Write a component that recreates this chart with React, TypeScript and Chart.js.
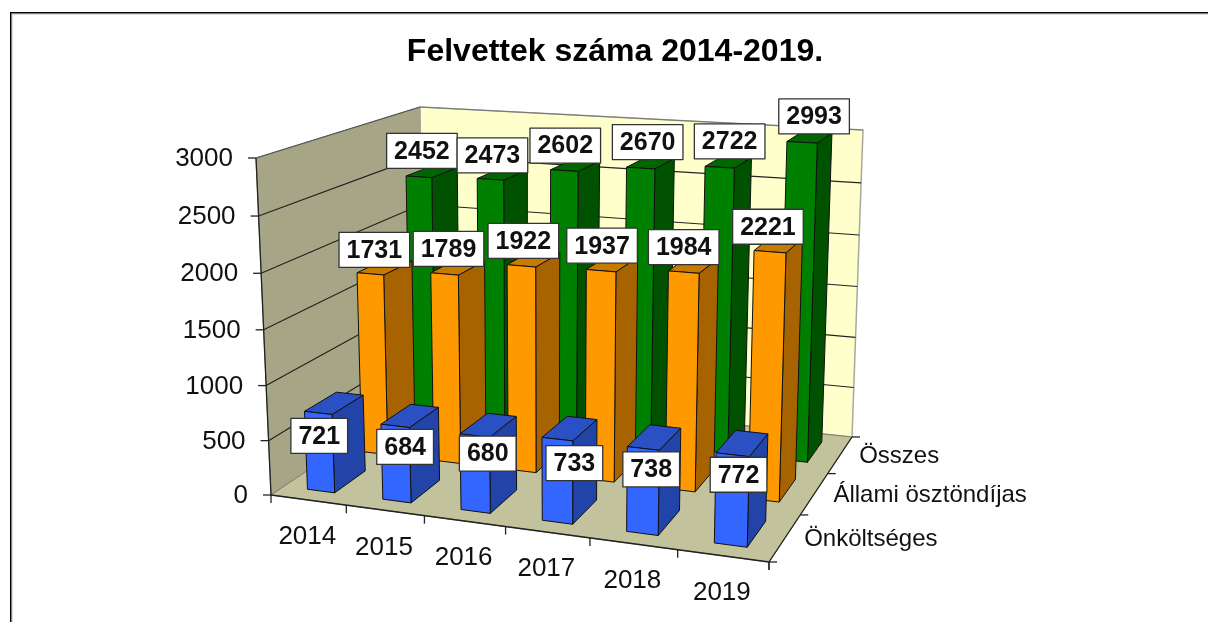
import React, { useEffect, useRef } from "react";
import { Chart, registerables } from "chart.js";

Chart.register(...registerables);

const years = ["2014", "2015", "2016", "2017", "2018", "2019"];
const seriesNames = ["Önköltséges", "Állami ösztöndíjas", "Összes"];
const selfFunded = [721, 684, 680, 733, 738, 772];
const stateFunded = [1731, 1789, 1922, 1937, 1984, 2221];
const total = [2452, 2473, 2602, 2670, 2722, 2993];

// screen offsets of the value boxes from the top of each bar's front face
const labelDx = [
  [1, 10, 13, 17, 8, 6],
  [4, 4, 2, 1, 0, -2],
  [3, 2, 1, 7, 10, 12],
];
const labelDy = [
  [23, 21, 18, 24, 21, 20],
  [-24, -25, -25, -25, -25, -25],
  [-26, -24, -25, -26, -26, -26],
];

const FONT = '"Liberation Sans", Arial, sans-serif';
const faces = [
  { front: "#3366FF", side: "#2244A8", top: "#2A50C4" },
  { front: "#FF9900", side: "#A66300", top: "#C77A00" },
  { front: "#008000", side: "#005200", top: "#006600" },
];

type Q = number[][];
const floorQuad: Q = [[271, 495], [769, 562], [852, 437], [424, 392]];
const topQuad: Q = [[256, 158], [778, 192], [863, 130], [420, 107]];
const BAR_U = 0.365;
const BAR_V = 0.56;

function homography(q: Q) {
  const [[x0, y0], [x1, y1], [x2, y2], [x3, y3]] = q;
  const sx = x0 - x1 + x2 - x3, sy = y0 - y1 + y2 - y3;
  const dx1 = x1 - x2, dx2 = x3 - x2, dy1 = y1 - y2, dy2 = y3 - y2;
  const det = dx1 * dy2 - dx2 * dy1;
  const g = (sx * dy2 - dx2 * sy) / det, h = (dx1 * sy - sx * dy1) / det;
  const a = x1 - x0 + g * x1, b = x3 - x0 + h * x3;
  const d = y1 - y0 + g * y1, e = y3 - y0 + h * y3;
  return (u: number, v: number) => {
    const k = g * u + h * v + 1;
    return [(a * u + b * v + x0) / k, (d * u + e * v + y0) / k];
  };
}
const floorH = homography(floorQuad);
const topH = homography(topQuad);
function project(u: number, v: number, w: number) {
  const p0 = floorH(u, v), p1 = topH(u, v);
  const s = w / (1.04 - 0.04 * w);
  return [p0[0] + (p1[0] - p0[0]) * s, p0[1] + (p1[1] - p0[1]) * s];
}

function poly(ctx: CanvasRenderingContext2D, pts: number[][], fill: string | null, stroke: string | null, lw = 1) {
  ctx.beginPath();
  pts.forEach((p, i) => (i ? ctx.lineTo(p[0], p[1]) : ctx.moveTo(p[0], p[1])));
  ctx.closePath();
  if (fill) { ctx.fillStyle = fill; ctx.fill(); }
  if (stroke) { ctx.strokeStyle = stroke; ctx.lineWidth = lw; ctx.lineJoin = "round"; ctx.stroke(); }
}
function line(ctx: CanvasRenderingContext2D, a: number[], b: number[], c: string, lw = 1) {
  ctx.beginPath(); ctx.moveTo(a[0], a[1]); ctx.lineTo(b[0], b[1]);
  ctx.strokeStyle = c; ctx.lineWidth = lw; ctx.stroke();
}

const scene3d = {
  id: "scene3d",
  beforeDatasetsDraw(chart: any) {
    const { ctx, chartArea: ca, scales } = chart;
    const { x, y, z } = scales;
    const U = (i: number) => (x.getPixelForValue(i) - ca.left) / ca.width;
    const V = (i: number) => (z.getPixelForValue(i) - ca.left) / ca.width;
    const W = (val: number) => (ca.bottom - y.getPixelForValue(val)) / ca.height;
    const du = (U(1) - U(0)) * BAR_U / 2;
    const dv = (V(1) - V(0)) * BAR_V / 2;
    ctx.save();

    // outer frame, open on the right and at the bottom
    ctx.fillStyle = "#000";
    ctx.fillRect(10, 12, 1198, 1.6);
    ctx.fillRect(10, 12, 1.6, 610);
    ctx.fillStyle = "#aaa";
    ctx.fillRect(11.6, 13.6, 1196.4, 0.8);
    ctx.fillRect(11.6, 13.6, 0.8, 608.4);

    // walls and floor
    poly(ctx, [project(0, 0, 0), project(0, 1, 0), project(0, 1, 1), project(0, 0, 1)], "#A6A686", "#808080");
    poly(ctx, [project(0, 1, 0), project(1, 1, 0), project(1, 1, 1), project(0, 1, 1)], "#FFFFCC", "#A8A8A0", 1.5);
    poly(ctx, [project(0, 0, 0), project(1, 0, 0), project(1, 1, 0), project(0, 1, 0)], "#C2C29C", "#808070");

    // value grid
    const vTicks = y.ticks.map((t: any) => t.value);
    vTicks.forEach((val: number) => {
      if (val === 0) return;
      const w = W(val);
      if (val < 3000) {
        line(ctx, project(0, 0, w), project(0, 1, w), "#222", 1.2);
        line(ctx, project(0, 1, w), project(1, 1, w), "#222", 1.2);
      } else {
        line(ctx, project(0, 0, w), project(0, 1, w), "#555", 1.2);
        line(ctx, project(0, 1, w), project(1, 1, w), "#777", 1.2);
      }
    });

    // axes and tick marks
    line(ctx, project(0, 0, 0), project(0, 0, 1), "#222", 1.3);
    line(ctx, project(0, 0, 0), project(1, 0, 0), "#222", 1.3);
    line(ctx, project(1, 0, 0), project(1, 1, 0), "#222", 1.3);
    ctx.fillStyle = "#111";
    ctx.font = `26px ${FONT}`;
    ctx.textBaseline = "middle";
    ctx.textAlign = "right";
    vTicks.forEach((val: number) => {
      const p = project(0, 0, W(val));
      line(ctx, [p[0] - 8, p[1]], p, "#222", 1.3);
      ctx.fillText(String(val), p[0] - 23, p[1] + 1);
    });
    ctx.textAlign = "center";
    x.getLabels().forEach((lab: string, i: number) => {
      const e = project(U(i) + (U(1) - U(0)) / 2, 0, 0);
      line(ctx, e, [e[0], e[1] + 8], "#222", 1.3);
      const p = project(U(i), 0, 0);
      ctx.fillText(lab, p[0] - 1, p[1] + 37);
    });
    const s = project(0, 0, 0);
    line(ctx, s, [s[0], s[1] + 8], "#222", 1.3);
    ctx.font = `24px ${FONT}`;
    ctx.textAlign = "left";
    z.getLabels().forEach((lab: string, i: number) => {
      const e = project(1, V(i) + (V(1) - V(0)) / 2, 0);
      line(ctx, e, [e[0] + 8, e[1]], "#222", 1.3);
      const p = project(1, V(i), 0);
      ctx.fillText(lab, p[0] + 19, p[1] + 2);
    });
    const c = project(1, 0, 0);
    line(ctx, c, [c[0] + 8, c[1]], "#222", 1.3);
    line(ctx, c, [c[0], c[1] + 8], "#222", 1.3);

    // bars, back row first
    const boxes: any[] = [];
    for (let d = chart.data.datasets.length - 1; d >= 0; d--) {
      const data = chart.data.datasets[d].data;
      const v = V(d);
      data.forEach((val: number, i: number) => {
        const u = U(i), w = W(val);
        const u0 = u - du, u1 = u + du, v0 = v - dv, v1 = v + dv;
        const col = faces[d];
        poly(ctx, [project(u1, v0, 0), project(u1, v1, 0), project(u1, v1, w), project(u1, v0, w)], col.side, "#111");
        poly(ctx, [project(u0, v0, w), project(u1, v0, w), project(u1, v1, w), project(u0, v1, w)], col.top, "#111");
        poly(ctx, [project(u0, v0, 0), project(u1, v0, 0), project(u1, v0, w), project(u0, v0, w)], col.front, "#111");
        const a = project(u, v0, w);
        boxes.push([String(val), a[0] + labelDx[d][i], a[1] + labelDy[d][i]]);
      });
    }

    // value boxes
    ctx.font = `bold 25px ${FONT}`;
    ctx.textAlign = "center";
    boxes.forEach(([text, cx, cy]) => {
      const bw = ctx.measureText(text).width + 15;
      const bh = 35;
      ctx.fillStyle = "#fff";
      ctx.fillRect(cx - bw / 2, cy - bh / 2, bw, bh);
      ctx.strokeStyle = "#333";
      ctx.lineWidth = 1.3;
      ctx.strokeRect(cx - bw / 2, cy - bh / 2, bw, bh);
      ctx.fillStyle = "#111";
      ctx.fillText(text, cx, cy + 1);
    });
    ctx.restore();
    return false;
  },
};

export default function App() {
  const ref = useRef<HTMLCanvasElement>(null);
  useEffect(() => {
    const chart = new Chart(ref.current as HTMLCanvasElement, {
      type: "bar",
      data: {
        labels: years,
        datasets: [
          { label: seriesNames[0], data: selfFunded },
          { label: seriesNames[1], data: stateFunded },
          { label: seriesNames[2], data: total },
        ],
      },
      plugins: [scene3d],
      options: {
        responsive: false,
        animation: false,
        layout: { padding: { left: 22, top: 33, right: 0, bottom: 0 } },
        plugins: {
          legend: { display: false },
          tooltip: { enabled: false },
          title: {
            display: true,
            text: "Felvettek száma 2014-2019.",
            color: "#000",
            font: { family: FONT, size: 32, weight: "bold" },
            padding: { top: 0, bottom: 10 },
          },
        },
        scales: {
          x: { type: "category", display: false, offset: true },
          y: { type: "linear", display: false, min: 0, max: 3000, ticks: { stepSize: 500 } },
          z: { type: "category", axis: "x", position: "bottom", display: false, offset: true, labels: seriesNames },
        },
      },
    } as any);
    return () => chart.destroy();
  }, []);
  return (
    <canvas
      ref={ref}
      width={1208}
      height={622}
      style={{ position: "absolute", left: 0, top: 0, display: "block" }}
    />
  );
}
